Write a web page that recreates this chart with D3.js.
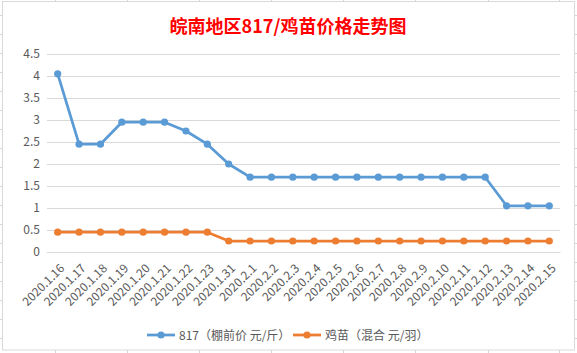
<!DOCTYPE html>
<html>
<head>
<meta charset="utf-8">
<script src="https://cdn.jsdelivr.net/npm/d3@7"></script>
<style>
  body { margin: 0; background: #fff; }
  svg text { font-family: "Noto Sans CJK SC", "Noto Sans", sans-serif; }
</style>
</head>
<body>
<div id="chart"></div>
<script>
// dates on the x axis
const dates = [
  "2020.1.16", "2020.1.17", "2020.1.18", "2020.1.19", "2020.1.20", "2020.1.21",
  "2020.1.22", "2020.1.23", "2020.1.31", "2020.2.1", "2020.2.2", "2020.2.3",
  "2020.2.4", "2020.2.5", "2020.2.6", "2020.2.7", "2020.2.8", "2020.2.9",
  "2020.2.10", "2020.2.11", "2020.2.12", "2020.2.13", "2020.2.14", "2020.2.15"
];
// 817 price (yuan / jin)
const price817 = [
  4.05, 2.45, 2.45, 2.95, 2.95, 2.95, 2.75, 2.45, 2.0, 1.7, 1.7, 1.7,
  1.7, 1.7, 1.7, 1.7, 1.7, 1.7, 1.7, 1.7, 1.7, 1.05, 1.05, 1.05
];
// chick price (yuan / each)
const priceChick = [
  0.45, 0.45, 0.45, 0.45, 0.45, 0.45, 0.45, 0.45, 0.25, 0.25, 0.25, 0.25,
  0.25, 0.25, 0.25, 0.25, 0.25, 0.25, 0.25, 0.25, 0.25, 0.25, 0.25, 0.25
];
const yTicks = [0, 0.5, 1, 1.5, 2, 2.5, 3, 3.5, 4, 4.5];
const seriesNames = ["817（棚前价 元/斤）", "鸡苗（混合 元/羽）"];
const seriesColors = ["#5b9bd5", "#ed7d31"];

const width = 577, height = 353;

const svg = d3.select("#chart").append("svg")
  .attr("width", width)
  .attr("height", height);

// spreadsheet cell lines peeking out around the chart frame
const colLines = [55, 127, 199, 271, 343, 415, 488, 559];
const rowLines = d3.range(15.5, 353, 19);
const bg = svg.append("g").attr("stroke", "#d6d6d6").attr("stroke-width", 1);
colLines.forEach(x => {
  bg.append("line").attr("x1", x + 0.5).attr("x2", x + 0.5).attr("y1", 0).attr("y2", 2);
  bg.append("line").attr("x1", x + 0.5).attr("x2", x + 0.5).attr("y1", 350).attr("y2", 353);
});
rowLines.forEach(y => {
  bg.append("line").attr("x1", 0).attr("x2", 2.5).attr("y1", y).attr("y2", y);
  bg.append("line").attr("x1", 574.5).attr("x2", 577).attr("y1", y).attr("y2", y);
});

// chart frame
svg.append("rect")
  .attr("x", 2.5).attr("y", 1.5)
  .attr("width", 572).attr("height", 348.5)
  .attr("fill", "#fff")
  .attr("stroke", "#d9d9d9");

// title
svg.append("text")
  .attr("x", 288).attr("y", 33)
  .attr("text-anchor", "middle")
  .attr("fill", "#ff0000")
  .attr("font-size", 18)
  .attr("font-weight", "bold")
  .text("皖南地区817/鸡苗价格走势图");

const x = d3.scalePoint().domain(dates).range([47, 560]).padding(0.5);
const y = d3.scaleLinear().domain([0, 4.5]).range([252, 54]);

// gridlines + y labels
const yAxis = svg.append("g")
  .attr("transform", "translate(47,0)")
  .call(d3.axisLeft(y).tickValues(yTicks).tickSize(-513).tickPadding(7)
    .tickFormat(d3.format("")));
yAxis.select(".domain").remove();
yAxis.selectAll(".tick line").attr("stroke", "#d9d9d9");
yAxis.selectAll(".tick text")
  .attr("fill", "#595959")
  .attr("font-size", 12);

// x labels
const xAxis = svg.append("g")
  .attr("transform", "translate(0,252)")
  .call(d3.axisBottom(x).tickSize(0).tickPadding(0));
xAxis.select(".domain").attr("stroke", "#d9d9d9");
xAxis.selectAll(".tick text")
  .attr("fill", "#595959")
  .attr("font-size", 12)
  .attr("text-anchor", "end")
  .attr("dy", 0)
  .attr("transform", "translate(7,17) rotate(-45)");

// series
const series = [price817, priceChick];
const line = d3.line().x((d, i) => x(dates[i])).y(d => y(d));

series.forEach((vals, s) => {
  const g = svg.append("g");
  g.append("path")
    .datum(vals)
    .attr("d", line)
    .attr("fill", "none")
    .attr("stroke", seriesColors[s])
    .attr("stroke-width", 2.75)
    .attr("stroke-linejoin", "round");
  g.selectAll("circle")
    .data(vals)
    .join("circle")
    .attr("cx", (d, i) => x(dates[i]))
    .attr("cy", d => y(d))
    .attr("r", 3.6)
    .attr("fill", seriesColors[s]);
});

// legend
const legendX = [147, 293];
series.forEach((vals, s) => {
  const lg = svg.append("g").attr("transform", `translate(${legendX[s]},335)`);
  lg.append("line")
    .attr("x1", 0).attr("x2", 28)
    .attr("stroke", seriesColors[s])
    .attr("stroke-width", 2.75);
  lg.append("circle").attr("cx", 14).attr("r", 3.6).attr("fill", seriesColors[s]);
  lg.append("text")
    .attr("x", 32).attr("y", 4.5)
    .attr("fill", "#595959")
    .attr("font-size", 12)
    .text(seriesNames[s]);
});
</script>
</body>
</html>
